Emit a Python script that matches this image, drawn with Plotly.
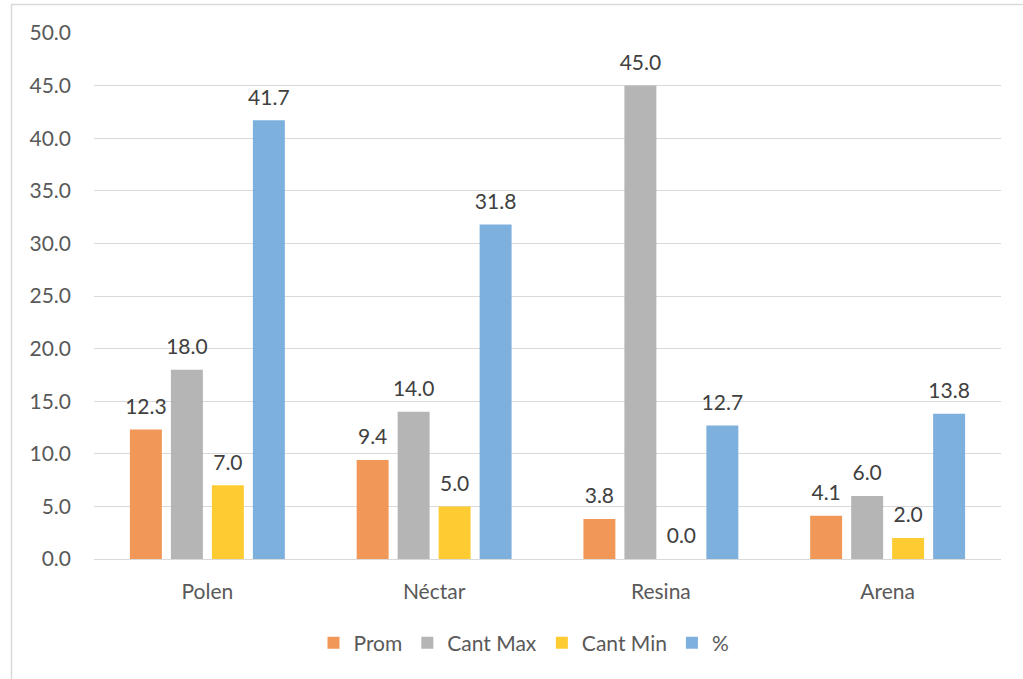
import plotly.graph_objects as go

categories = ["Polen", "Néctar", "Resina", "Arena"]
prom = [12.3, 9.4, 3.8, 4.1]
cant_max = [18.0, 14.0, 45.0, 6.0]
cant_min = [7.0, 5.0, 0.0, 2.0]
pct = [41.7, 31.8, 12.7, 13.8]
series_names = ["Prom", "Cant Max", "Cant Min", "%"]
series_colors = ["#F19859", "#B5B5B5", "#FFCB32", "#7EB0DE"]
y_ticks = [0, 5, 10, 15, 20, 25, 30, 35, 40, 45, 50]

FONT = "Lato"
TXT = "#595959"
FS = 21
LABEL_BAND = 4.6  # data-unit height of the transparent band that carries each value label

fig = go.Figure()
for i, (name, vals, col) in enumerate(zip(series_names, [prom, cant_max, cant_min, pct], series_colors)):
    fig.add_trace(go.Bar(
        x=categories, y=vals, name=name, marker_color=col,
        marker_line_width=0, offsetgroup=str(i), legendgroup=name,
    ))
    # transparent band stacked on top of each bar, holding the value label
    fig.add_trace(go.Bar(
        x=categories, y=[LABEL_BAND] * len(vals), base=vals, name=name,
        marker_color="rgba(0,0,0,0)", marker_line_width=0,
        offsetgroup=str(i), legendgroup=name, showlegend=False, hoverinfo="skip",
        text=[f"{v:.1f}" for v in vals], textposition="inside", insidetextanchor="middle",
        textangle=0, constraintext="none",
        insidetextfont=dict(family=FONT, size=FS, color="#404040"),
        cliponaxis=False,
    ))

W, H = 1023, 679
L, R, T, B = 94, 1001, 33, 559
pw, ph = R - L, B - T

def px(x):
    return (x - L) / pw

def py(y):
    return (B - y) / ph

fig.update_layout(
    width=W, height=H,
    margin=dict(l=L, r=W - R, t=T, b=H - B),
    paper_bgcolor="white", plot_bgcolor="white",
    barmode="group", bargap=0.277, bargroupgap=0.22,
    font=dict(family=FONT, size=FS, color=TXT),
    showlegend=True,
    legend=dict(orientation="h", x=px(524), xanchor="center", y=py(643), yanchor="middle",
                font=dict(family=FONT, size=FS, color=TXT), itemwidth=30,
                traceorder="normal"),
    xaxis=dict(showgrid=False, showline=False, ticks="", ticklabelstandoff=18,
               tickfont=dict(size=FS, color=TXT)),
    yaxis=dict(range=[0, 50], tickvals=y_ticks, ticktext=[f"{v:.1f}" for v in y_ticks],
               showgrid=True, gridcolor="#D9D9D9", gridwidth=1, zeroline=True,
               zerolinecolor="#D9D9D9", zerolinewidth=1, showline=False, ticks="",
               ticklabelstandoff=22, tickfont=dict(size=FS, color=TXT)),
    shapes=[dict(type="rect", xref="paper", yref="paper",
                 x0=px(11.5), x1=px(1030), y0=py(690), y1=py(4.5),
                 line=dict(color="#D9D9D9", width=1.5), fillcolor="rgba(0,0,0,0)", layer="below")],
)

fig.write_html("out.html")
